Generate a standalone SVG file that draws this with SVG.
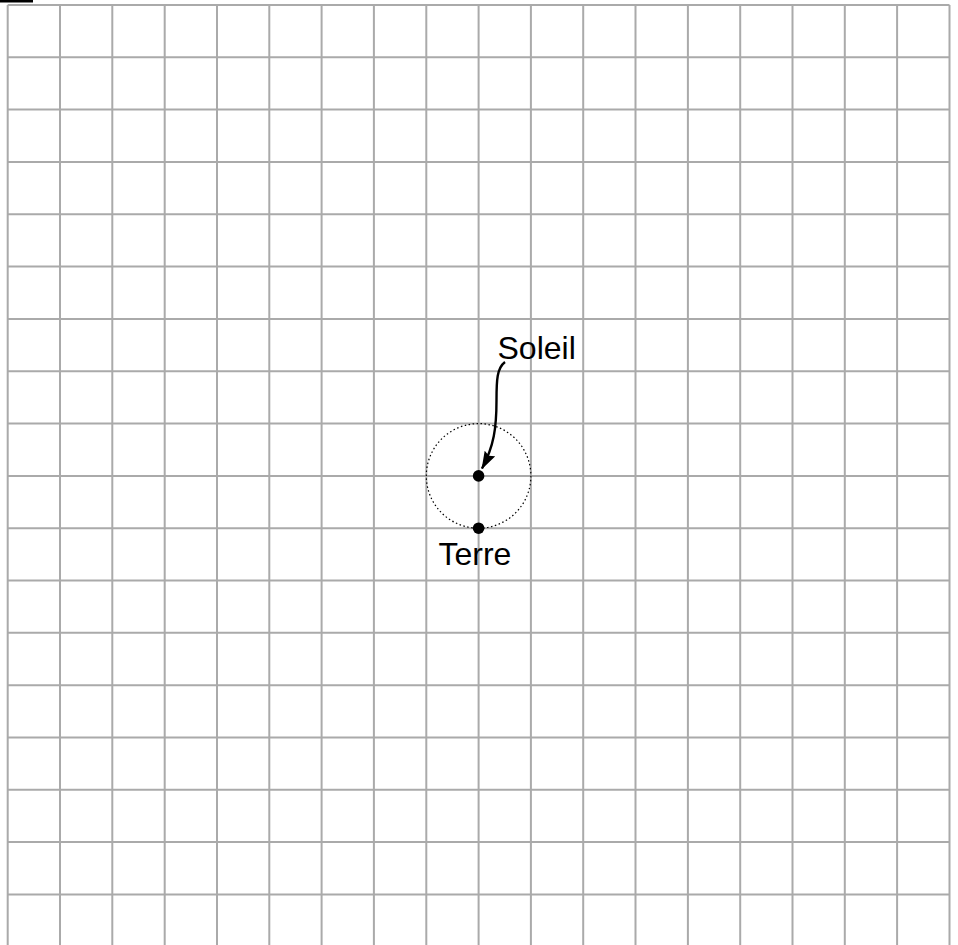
<svg xmlns="http://www.w3.org/2000/svg" width="958" height="945" viewBox="0 0 958 945">
<defs>
<style>
.grid line{stroke:#aaaaaa;stroke-width:2}
.lbl{font-family:"Liberation Sans",Arial,sans-serif;font-size:32px;fill:#000}
.dot{fill:#000}
</style>
<marker id="ah" markerWidth="18" markerHeight="12" refX="17" refY="6" orient="auto" markerUnits="userSpaceOnUse" viewBox="0 0 18 12">
<path d="M0,0 L18,6 L0,12 L2.5,6 Z" fill="#000"/>
</marker>
</defs>
<rect width="958" height="945" fill="#fff"/>
<rect x="0" y="0" width="33" height="2.5" fill="#000"/>
<g class="grid" id="grid">
<line x1="7.7" y1="5" x2="949.5" y2="5"/>
<line x1="7.7" y1="57.3" x2="949.5" y2="57.3"/>
<line x1="7.7" y1="109.6" x2="949.5" y2="109.6"/>
<line x1="7.7" y1="162" x2="949.5" y2="162"/>
<line x1="7.7" y1="214.3" x2="949.5" y2="214.3"/>
<line x1="7.7" y1="266.6" x2="949.5" y2="266.6"/>
<line x1="7.7" y1="318.9" x2="949.5" y2="318.9"/>
<line x1="7.7" y1="371.2" x2="949.5" y2="371.2"/>
<line x1="7.7" y1="423.6" x2="949.5" y2="423.6"/>
<line x1="7.7" y1="475.9" x2="949.5" y2="475.9"/>
<line x1="7.7" y1="528.2" x2="949.5" y2="528.2"/>
<line x1="7.7" y1="580.5" x2="949.5" y2="580.5"/>
<line x1="7.7" y1="632.8" x2="949.5" y2="632.8"/>
<line x1="7.7" y1="685.2" x2="949.5" y2="685.2"/>
<line x1="7.7" y1="737.5" x2="949.5" y2="737.5"/>
<line x1="7.7" y1="789.8" x2="949.5" y2="789.8"/>
<line x1="7.7" y1="842.1" x2="949.5" y2="842.1"/>
<line x1="7.7" y1="894.4" x2="949.5" y2="894.4"/>
<line x1="7.7" y1="5" x2="7.7" y2="945"/>
<line x1="60" y1="5" x2="60" y2="945"/>
<line x1="112.3" y1="5" x2="112.3" y2="945"/>
<line x1="164.7" y1="5" x2="164.7" y2="945"/>
<line x1="217" y1="5" x2="217" y2="945"/>
<line x1="269.3" y1="5" x2="269.3" y2="945"/>
<line x1="321.6" y1="5" x2="321.6" y2="945"/>
<line x1="373.9" y1="5" x2="373.9" y2="945"/>
<line x1="426.3" y1="5" x2="426.3" y2="945"/>
<line x1="478.6" y1="5" x2="478.6" y2="945"/>
<line x1="530.9" y1="5" x2="530.9" y2="945"/>
<line x1="583.2" y1="5" x2="583.2" y2="945"/>
<line x1="635.5" y1="5" x2="635.5" y2="945"/>
<line x1="687.9" y1="5" x2="687.9" y2="945"/>
<line x1="740.2" y1="5" x2="740.2" y2="945"/>
<line x1="792.5" y1="5" x2="792.5" y2="945"/>
<line x1="844.8" y1="5" x2="844.8" y2="945"/>
<line x1="897.1" y1="5" x2="897.1" y2="945"/>
<line x1="949.5" y1="5" x2="949.5" y2="945"/>
</g>
<g id="orbit">
<circle cx="478.6" cy="475.9" r="52.3" fill="none" stroke="#000" stroke-width="1.2" stroke-dasharray="1.5,2.5"/>
</g>
<g id="connectors">
<path d="M505,362 C497,368 496.5,380 496.5,400 C496.5,428 494,446 482,468.5" fill="none" stroke="#000" stroke-width="2.4" marker-end="url(#ah)"/>
</g>
<g id="soleil">
<circle class="dot" cx="478.6" cy="475.9" r="5.8"/>
<text class="lbl" x="497.5" y="358.5">Soleil</text>
</g>
<g id="terre">
<circle class="dot" cx="478.6" cy="528.2" r="5.8"/>
<text class="lbl" x="438.5" y="565">Terre</text>
</g>
</svg>
